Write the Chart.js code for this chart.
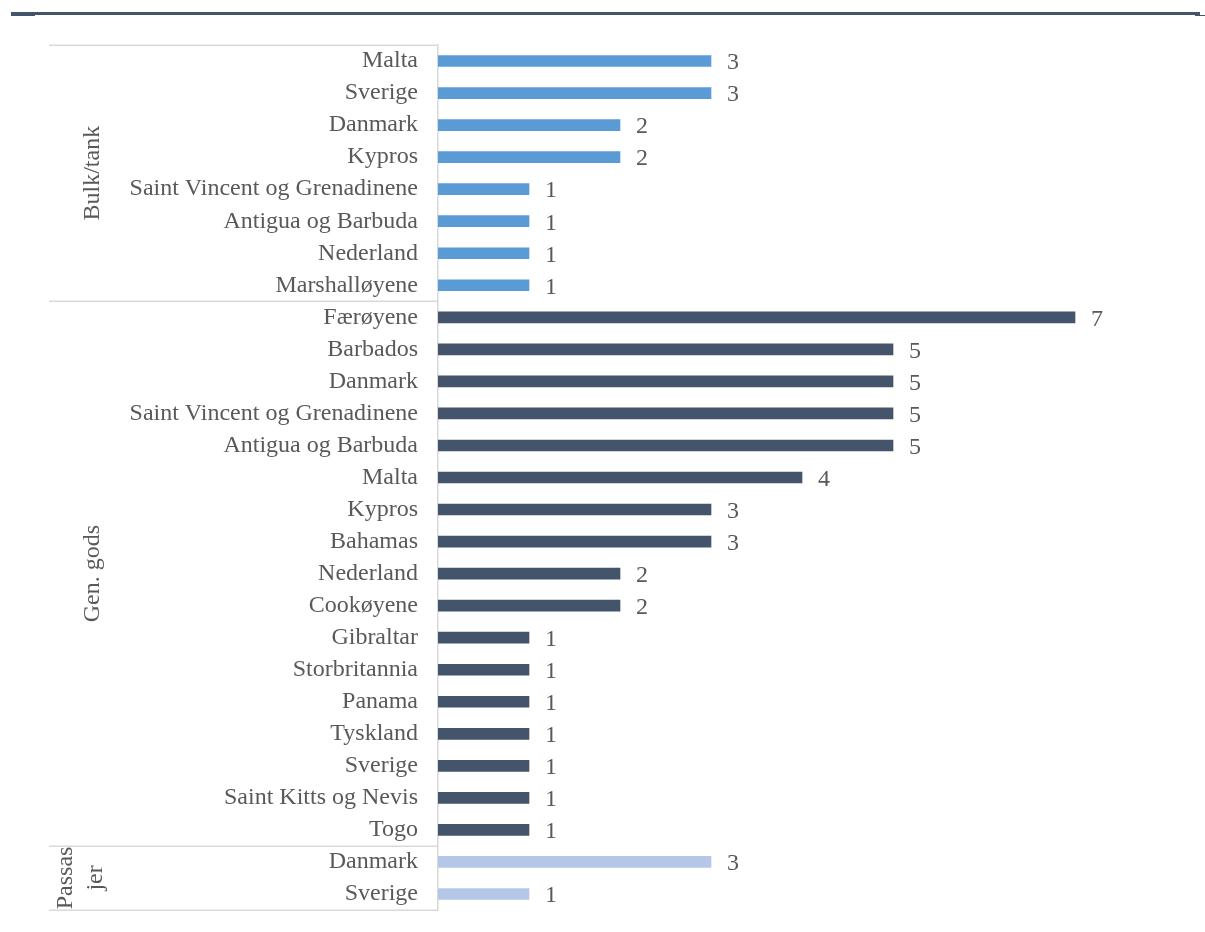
<!DOCTYPE html>
<html>
<head>
<meta charset="utf-8">
<script src="https://cdn.jsdelivr.net/npm/chart.js@4.4.1/dist/chart.umd.min.js"></script>
<style>
  html, body { margin: 0; padding: 0; background: #ffffff; }
  #wrap { position: relative; width: 1205px; height: 932px; }
</style>
</head>
<body>
<div id="wrap"><canvas id="c" width="1205" height="932"></canvas></div>
<script>
// Ship flags by segment
const bulkLabels = ['Malta', 'Sverige', 'Danmark', 'Kypros', 'Saint Vincent og Grenadinene', 'Antigua og Barbuda', 'Nederland', 'Marshalløyene'];
const bulkValues = [3, 3, 2, 2, 1, 1, 1, 1];

const genLabels = ['Færøyene', 'Barbados', 'Danmark', 'Saint Vincent og Grenadinene', 'Antigua og Barbuda', 'Malta', 'Kypros', 'Bahamas', 'Nederland', 'Cookøyene', 'Gibraltar', 'Storbritannia', 'Panama', 'Tyskland', 'Sverige', 'Saint Kitts og Nevis', 'Togo'];
const genValues = [7, 5, 5, 5, 5, 4, 3, 3, 2, 2, 1, 1, 1, 1, 1, 1, 1];

const passLabels = ['Danmark', 'Sverige'];
const passValues = [3, 1];

const groupNames = [['Bulk/tank'], ['Gen. gods'], ['Passas', 'jer']];
const groupColors = ['#5B9BD5', '#44546A', '#B4C7E7'];

const groups = [
  { labels: bulkLabels, values: bulkValues },
  { labels: genLabels, values: genValues },
  { labels: passLabels, values: passValues }
];

const labels = [];
const values = [];
const colors = [];
const groupStart = [];
groups.forEach((g, gi) => {
  groupStart.push(labels.length);
  g.labels.forEach((l, i) => {
    labels.push(l);
    values.push(g.values[i]);
    colors.push(groupColors[gi]);
  });
});
groupStart.push(labels.length);

const FONT = '"Liberation Serif", "Times New Roman", serif';
const TEXT = '#595959';
const FS = 24;

// value labels to the right of each bar
const valueLabels = {
  id: 'valueLabels',
  afterDatasetsDraw(chart) {
    const ctx = chart.ctx;
    const meta = chart.getDatasetMeta(0);
    ctx.save();
    ctx.font = FS + 'px ' + FONT;
    ctx.fillStyle = TEXT;
    ctx.textAlign = 'left';
    ctx.textBaseline = 'middle';
    meta.data.forEach((bar, i) => {
      ctx.fillText(String(values[i]), bar.x + 16, bar.y + 2);
    });
    ctx.restore();
  }
};

// group separators, group titles and the top rule
const groupAxis = {
  id: 'groupAxis',
  afterDraw(chart) {
    const ctx = chart.ctx;
    const area = chart.chartArea;
    const left = 49;
    const step = (area.bottom - area.top) / labels.length;
    ctx.save();
    // top rule
    ctx.fillStyle = '#44546A';
    ctx.fillRect(11, 12, 1189, 3);
    ctx.fillRect(11, 15, 24, 1);
    ctx.fillRect(1195, 15, 10, 1);
    // separators
    ctx.strokeStyle = '#D9D9D9';
    ctx.lineWidth = 1.5;
    groupStart.forEach(idx => {
      const yy = Math.round(area.top + idx * step) + 0.25;
      ctx.beginPath();
      ctx.moveTo(left, yy);
      ctx.lineTo(area.left, yy);
      ctx.stroke();
    });
    // group titles
    ctx.font = FS + 'px ' + FONT;
    ctx.fillStyle = TEXT;
    ctx.textAlign = 'center';
    ctx.textBaseline = 'middle';
    groupNames.forEach((lines, gi) => {
      const top = area.top + groupStart[gi] * step;
      const bot = area.top + groupStart[gi + 1] * step;
      const cy = (top + bot) / 2;
      const lh = 30;
      const cx = lines.length === 1 ? 93 : 81;
      ctx.save();
      ctx.translate(cx, cy);
      ctx.rotate(-Math.PI / 2);
      lines.forEach((ln, li) => {
        const off = (li - (lines.length - 1) / 2) * lh;
        ctx.fillText(ln, 0, off);
      });
      ctx.restore();
    });
    ctx.restore();
  }
};

new Chart(document.getElementById('c'), {
  type: 'bar',
  data: {
    labels: labels,
    datasets: [{
      data: values,
      backgroundColor: colors,
      barThickness: 11,
      borderWidth: 0
    }]
  },
  options: {
    indexAxis: 'y',
    responsive: false,
    animation: false,
    layout: { padding: { top: 45, bottom: 22, right: 39, left: 0 } },
    plugins: { legend: { display: false }, tooltip: { enabled: false } },
    scales: {
      x: { display: false, min: 0, max: 8 },
      y: {
        afterFit(s) { s.width = 438; s.paddingTop = 0; s.paddingBottom = 0; },
        grid: { display: false, drawTicks: false },
        border: { display: true, color: '#D9D9D9', width: 1.5 },
        ticks: {
          padding: 20,
          color: TEXT,
          font: { family: FONT, size: FS },
          autoSkip: false
        }
      }
    }
  },
  plugins: [valueLabels, groupAxis]
});
</script>
</body>
</html>
